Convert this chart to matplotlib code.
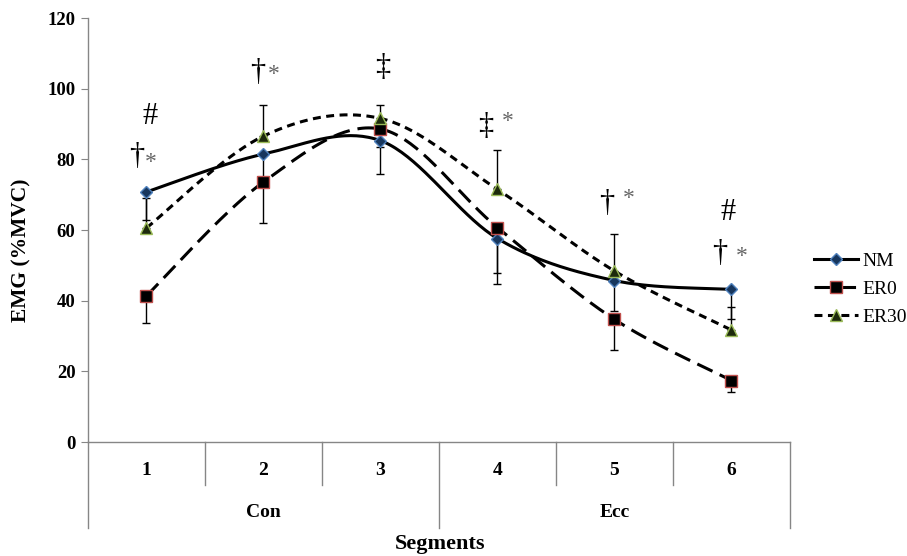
import numpy as np
import matplotlib
matplotlib.use('Agg')
import matplotlib.pyplot as plt
from matplotlib.lines import Line2D

plt.rcParams['font.family'] = ['Liberation Serif', 'DejaVu Serif']

segments = [1, 2, 3, 4, 5, 6]
seg_labels = ['1', '2', '3', '4', '5', '6']
groups = ['Con', 'Ecc']

nm = [70.8, 81.5, 85.3, 57.6, 45.7, 43.2]
er0 = [41.4, 73.6, 88.6, 60.7, 34.7, 17.4]
er30 = [60.6, 86.6, 91.6, 71.5, 48.4, 31.7]

# one-sided error bars (NM and ER0 downward, ER30 upward)
nm_err = [8.0, 8.0, 9.3, 12.9, 8.5, 8.4]
er0_err = [7.7, 11.5, 5.0, 12.8, 8.7, 3.3]
er30_err = [8.6, 8.7, 3.8, 11.1, 10.6, 6.6]

# significance marks: (segment, y, symbol)
marks = [(1.03, 92.0, '#'), (0.915, 80.7, '†'), (1.04, 79.2, '*'),
         (1.95, 104.7, '†'), (2.09, 103.9, '*'),
         (3.02, 105.9, '‡'),
         (3.90, 89.4, '‡'), (4.09, 90.6, '*'),
         (4.93, 67.4, '†'), (5.12, 68.8, '*'),
         (5.97, 65.1, '#'), (5.90, 53.5, '†'), (6.09, 52.6, '*')]


def excel_smooth(x, y, n=40):
    # bezier smoothing like a spreadsheet "smoothed line"
    x = np.asarray(x, float)
    y = np.asarray(y, float)
    px = np.concatenate([[x[0]], x, [x[-1]]])
    py = np.concatenate([[y[0]], y, [y[-1]]])
    xs, ys = [], []
    t = np.linspace(0, 1, n)
    for i in range(1, len(px) - 2):
        p0 = np.array([px[i], py[i]])
        p3 = np.array([px[i + 1], py[i + 1]])
        c1 = p0 + (np.array([px[i + 1], py[i + 1]]) - np.array([px[i - 1], py[i - 1]])) / 6
        c2 = p3 - (np.array([px[i + 2], py[i + 2]]) - np.array([px[i], py[i]])) / 6
        pts = ((1 - t) ** 3)[:, None] * p0 + (3 * (1 - t) ** 2 * t)[:, None] * c1 \
            + (3 * (1 - t) * t ** 2)[:, None] * c2 + (t ** 3)[:, None] * p3
        xs.extend(pts[:, 0])
        ys.extend(pts[:, 1])
    return np.array(xs), np.array(ys)


fig = plt.figure(figsize=(9.07, 5.56), dpi=100)
ax = fig.add_axes([0.097, 0.205, 0.774, 0.7625])

zero = [0] * 6
ax.errorbar(segments, nm, yerr=[nm_err, zero], fmt='none', ecolor='black', elinewidth=1, capsize=3, zorder=2)
ax.errorbar(segments, er0, yerr=[er0_err, zero], fmt='none', ecolor='black', elinewidth=1, capsize=3, zorder=2)
ax.errorbar(segments, er30, yerr=[zero, er30_err], fmt='none', ecolor='black', elinewidth=1, capsize=3, zorder=2)

sx, sy = excel_smooth(segments, nm)
ax.plot(sx, sy, color='black', lw=2.2, zorder=3)
sx, sy = excel_smooth(segments, er0)
ax.plot(sx, sy, color='black', lw=2.2, linestyle=(0, (5.5, 2.6)), zorder=3)
sx, sy = excel_smooth(segments, er30)
ax.plot(sx, sy, color='black', lw=2.2, linestyle=(0, (2.6, 1.8)), zorder=3)

nm_style = dict(marker='D', ms=6, mfc='#17365D', mec='#4F81BD', mew=1)
er0_style = dict(marker='s', ms=8, mfc='black', mec='#C0504D', mew=1)
er30_style = dict(marker='^', ms=8, mfc='#1d2a0c', mec='#9BBB59', mew=1)
ax.plot(segments, nm, linestyle='none', zorder=4, **nm_style)
ax.plot(segments, er0, linestyle='none', zorder=4, **er0_style)
ax.plot(segments, er30, linestyle='none', zorder=4, **er30_style)

for sxp, syp, sym in marks:
    if sym == '*':
        ax.text(sxp, syp, sym, ha='center', va='center', fontsize=17, color='#666666')
    else:
        ax.text(sxp, syp, sym, ha='center', va='center', fontsize=22, color='black')

ax.set_xlim(0.5, 6.5)
ax.set_ylim(0, 120)
ax.set_yticks(range(0, 121, 20))
ax.tick_params(axis='y', length=5, color='#868686', labelsize=13.5, pad=4)
for lab in ax.get_yticklabels():
    lab.set_fontweight('bold')
ax.set_xticks([])
for s in ['top', 'right']:
    ax.spines[s].set_visible(False)
for s in ['left', 'bottom']:
    ax.spines[s].set_color('#868686')
    ax.spines[s].set_linewidth(1)

# category axis dividers
tr = ax.get_xaxis_transform()
for b in [1.5, 2.5, 4.5, 5.5]:
    ax.plot([b, b], [0, -0.101], transform=tr, color='#868686', lw=1, clip_on=False)
for b in [0.5, 3.5, 6.5]:
    ax.plot([b, b], [0, -0.203], transform=tr, color='#868686', lw=1, clip_on=False)
for s, lab in zip(segments, seg_labels):
    ax.text(s, -0.066, lab, transform=tr, ha='center', va='center', fontsize=14, fontweight='bold')
ax.text(2.0, -0.166, groups[0], transform=tr, ha='center', va='center', fontsize=14, fontweight='bold')
ax.text(5.0, -0.166, groups[1], transform=tr, ha='center', va='center', fontsize=14, fontweight='bold')

fig.text(0.485, 0.022, 'Segments', ha='center', va='center', fontsize=16, fontweight='bold')
fig.text(0.024, 0.55, 'EMG (%MVC)', ha='center', va='center', rotation=90, fontsize=15.5, fontweight='bold')

handles = [Line2D([], [], color='black', lw=2.2, **nm_style),
           Line2D([], [], color='black', lw=2.2, linestyle=(0, (5.5, 2.6)), **er0_style),
           Line2D([], [], color='black', lw=2.2, linestyle=(0, (2.6, 1.8)), **er30_style)]
fig.legend(handles, ['NM', 'ER0', 'ER30'], loc='center left', bbox_to_anchor=(0.897, 0.48),
           frameon=False, fontsize=14, handlelength=2.3, handletextpad=0.2, labelspacing=0.55,
           borderaxespad=0, borderpad=0)

fig.savefig('out.png', dpi=100)
